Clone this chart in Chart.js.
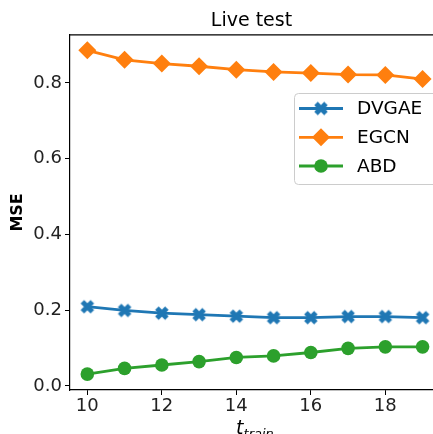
<!DOCTYPE html>
<html>
<head>
<meta charset="utf-8">
<script src="https://cdn.jsdelivr.net/npm/chart.js@4"></script>
<style>
  html, body { margin: 0; padding: 0; background: #fff; overflow: hidden; }
  #wrap { width: 433px; height: 434px; }
</style>
</head>
<body>
<div id="wrap"><canvas id="c" width="433" height="434"></canvas></div>
<script>
// Live test: MSE vs t_train
const tTrain = [10, 11, 12, 13, 14, 15, 16, 17, 18, 19];
const dvgae = [0.209, 0.199, 0.192, 0.188, 0.184, 0.180, 0.180, 0.183, 0.183, 0.180];
const egcn  = [0.886, 0.861, 0.851, 0.844, 0.835, 0.829, 0.826, 0.822, 0.821, 0.810];
const abd   = [0.031, 0.046, 0.055, 0.064, 0.075, 0.079, 0.088, 0.099, 0.103, 0.103];
const seriesNames = ['DVGAE', 'EGCN', 'ABD'];
const xTicks = [10, 12, 14, 16, 18];
const yTicks = [0.0, 0.2, 0.4, 0.6, 0.8];

Chart.defaults.font.family = '"DejaVu Sans", sans-serif';

// matplotlib-like filled "X" marker
function xMarker(color) {
  const c = document.createElement('canvas');
  c.width = 16; c.height = 16;
  const g = c.getContext('2d');
  g.strokeStyle = color;
  g.lineWidth = 5;
  g.lineCap = 'butt';
  g.beginPath();
  g.moveTo(3, 3); g.lineTo(13, 13);
  g.moveTo(13, 3); g.lineTo(3, 13);
  g.stroke();
  return c;
}

const pts = (ys) => tTrain.map((x, i) => ({ x, y: ys[i] }));

const line = (label, ys, color, style, r) => ({
  label,
  data: pts(ys),
  borderColor: color,
  backgroundColor: color,
  borderWidth: 2.8,
  pointStyle: style,
  pointRadius: r,
  pointHoverRadius: r,
  pointBorderWidth: 0,
  tension: 0,
});

const datasets = [
  line(seriesNames[0], dvgae, '#1f77b4', xMarker('#1f77b4'), 7),
  line(seriesNames[1], egcn, '#ff7f0e', 'rectRot', 9),
  line(seriesNames[2], abd, '#2ca02c', 'circle', 6.8),
];

// верхняя граница области графика (правая уходит за край картинки)
const frame = {
  id: 'frame',
  afterDatasetsDraw(chart) {
    const { ctx, chartArea: a } = chart;
    ctx.save();
    ctx.strokeStyle = '#000';
    ctx.lineWidth = 1.2;
    ctx.beginPath();
    ctx.moveTo(a.left, a.top);
    ctx.lineTo(chart.width + 2, a.top);
    ctx.stroke();
    ctx.restore();
  },
};

// подпись оси X: t с нижним индексом train
const xLabel = {
  id: 'xLabel',
  afterDraw(chart) {
    const { ctx } = chart;
    const cx = chart.scales.x.getPixelForValue(14.5);
    ctx.save();
    ctx.fillStyle = '#000';
    ctx.textBaseline = 'alphabetic';
    ctx.font = 'italic 19px "DejaVu Sans"';
    const w1 = ctx.measureText('t').width;
    ctx.font = 'italic 13px "DejaVu Sans"';
    const w2 = ctx.measureText('train').width;
    const x0 = cx - (w1 + w2) / 2;
    ctx.font = 'italic 19px "DejaVu Sans"';
    ctx.fillText('t', x0, 434);
    ctx.font = 'italic 13px "DejaVu Sans"';
    ctx.fillText('train', x0 + w1, 438);
    ctx.restore();
  },
};

// легенда: линия + маркер, как в matplotlib
const lineLegend = {
  id: 'lineLegend',
  afterDraw(chart) {
    const { ctx } = chart;
    const bx = 294, by = 93, bw = 150, bh = 91;
    const rows = [108.5, 137.3, 166];
    ctx.save();
    ctx.fillStyle = 'rgba(255,255,255,0.8)';
    ctx.strokeStyle = '#cccccc';
    ctx.lineWidth = 1;
    ctx.beginPath();
    ctx.roundRect(bx + 0.5, by + 0.5, bw, bh, 4);
    ctx.fill();
    ctx.stroke();
    chart.data.datasets.forEach((ds, i) => {
      const y = rows[i];
      ctx.strokeStyle = ds.borderColor;
      ctx.lineWidth = ds.borderWidth;
      ctx.beginPath();
      ctx.moveTo(299, y);
      ctx.lineTo(343, y);
      ctx.stroke();
      ctx.fillStyle = ds.backgroundColor;
      Chart.helpers.drawPoint(ctx, {
        pointStyle: ds.pointStyle, radius: ds.pointRadius, rotation: 0, borderWidth: 0,
      }, 321, y);
      ctx.fillStyle = '#000';
      ctx.font = '18.5px "DejaVu Sans"';
      ctx.textBaseline = 'middle';
      ctx.textAlign = 'left';
      ctx.fillText(ds.label, 357, y + 1);
    });
    ctx.restore();
  },
};

const tickFont = { size: 18 };
const tickColor = '#222';

new Chart(document.getElementById('c'), {
  type: 'line',
  data: { datasets },
  plugins: [frame, xLabel, lineLegend],
  options: {
    responsive: false,
    animation: false,
    events: [],
    layout: { autoPadding: false, padding: 0 },
    plugins: {
      legend: { display: false },
      tooltip: { enabled: false },
      title: {
        display: true,
        text: 'Live test',
        color: '#000',
        fullSize: false,
        font: { size: 19, weight: 'normal' },
        padding: { top: 10, bottom: 2 },
      },
    },
    scales: {
      x: {
        type: 'linear',
        min: 9.535,
        max: 19.28,
        afterBuildTicks: (s) => { s.ticks = xTicks.map(v => ({ value: v })); },
        afterFit: (s) => { s.height = 44; s.paddingLeft = 0; s.paddingRight = 0; },
        ticks: { font: tickFont, color: tickColor, padding: 1, maxRotation: 0, autoSkip: false },
        grid: { drawOnChartArea: false, tickLength: 5, color: '#000' },
        border: { color: '#000', width: 1.2 },
      },
      y: {
        min: -0.011,
        max: 0.927,
        afterBuildTicks: (s) => { s.ticks = yTicks.map(v => ({ value: v })); },
        afterFit: (s) => { s.width = 70; s.paddingTop = 0; s.paddingBottom = 0; },
        ticks: { font: tickFont, color: tickColor, padding: 3, callback: (v) => v.toFixed(1) },
        grid: { drawOnChartArea: false, tickLength: 5, color: '#000' },
        border: { color: '#000', width: 1.2 },
        title: {
          display: true,
          text: 'MSE',
          color: '#000',
          font: { size: 16, weight: 'bold' },
          padding: { top: 8, bottom: 0 },
        },
      },
    },
  },
});
</script>
</body>
</html>
